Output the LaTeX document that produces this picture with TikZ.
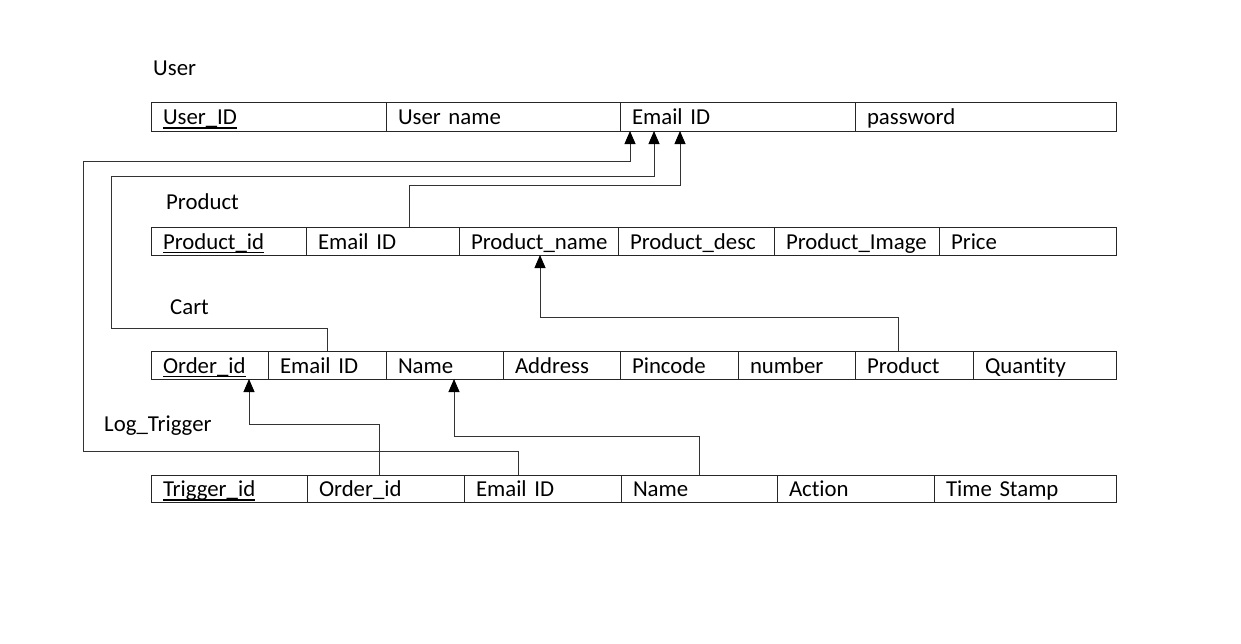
\documentclass[tikz,border=0pt]{standalone}
\usepackage{fontspec}
\setmainfont{Carlito}[Ligatures=NoCommon]
\usetikzlibrary{arrows.meta}
\newcommand\keyfield[1]{\setbox0=\hbox{#1}\rlap{\rule[-4pt]{\wd0}{1.1pt}}\box0}
\begin{document}
\begin{tikzpicture}[x=1pt,y=-1pt,
  cell/.style={draw=black!85, line width=0.9pt, rectangle, anchor=north west, inner xsep=12pt, inner ysep=0pt, outer sep=0pt, align=left, text height=17pt, text depth=1pt, font=\fontsize{22.8}{26}\selectfont},
  title/.style={anchor=base west, inner sep=0pt, font=\fontsize{22.8}{26}\selectfont},
  conn/.style={draw=black!80, line width=0.9pt, -{Triangle[length=13pt,width=11pt,color=black,fill=black]}}]
\useasboundingbox[fill=white] (0,0) rectangle (1241,643);

% titles
\node[title] (tu) at (153,75) {User};
\node[title] (tp) at (166,209) {Product};
\node[title] (tc) at (170,314) {Cart};
\node[title] (tl) at (104,431) {Log\_Trigger};

% User
\node[cell, text width=211pt, minimum height=29pt] (u1) at (151,102) {\keyfield{User\_ID}};
\node[cell, text width=210pt, minimum height=29pt] (u2) at (386,102) {User name};
\node[cell, text width=211pt, minimum height=29pt] (u3) at (620,102) {Email ID};
\node[cell, text width=237pt, minimum height=29pt] (u4) at (855,102) {password};

% Product
\node[cell, text width=131pt, minimum height=28pt] (p1) at (151,227) {\keyfield{Product\_id}};
\node[cell, text width=129pt, minimum height=28pt] (p2) at (306,227) {Email ID};
\node[cell, text width=135pt, minimum height=28pt] (p3) at (459,227) {Product\_name};
\node[cell, text width=132pt, minimum height=28pt] (p4) at (618,227) {Product\_desc};
\node[cell, text width=141pt, minimum height=28pt] (p5) at (774,227) {Product\_Image};
\node[cell, text width=153pt, minimum height=28pt] (p6) at (939,227) {Price};

% Cart
\node[cell, text width=93pt, minimum height=28pt] (c1) at (151,351) {\keyfield{Order\_id}};
\node[cell, text width=94pt, minimum height=28pt] (c2) at (268,351) {Email ID};
\node[cell, text width=93pt, minimum height=28pt] (c3) at (386,351) {Name};
\node[cell, text width=93pt, minimum height=28pt] (c4) at (503,351) {Address};
\node[cell, text width=94pt, minimum height=28pt] (c5) at (620,351) {Pincode};
\node[cell, text width=93pt, minimum height=28pt] (c6) at (738,351) {number};
\node[cell, text width=94pt, minimum height=28pt] (c7) at (855,351) {Product};
\node[cell, text width=119pt, minimum height=28pt] (c8) at (973,351) {Quantity};

% Log_Trigger
\node[cell, text width=132pt, minimum height=27pt] (l1) at (151,475) {\keyfield{Trigger\_id}};
\node[cell, text width=133pt, minimum height=27pt] (l2) at (307,475) {Order\_id};
\node[cell, text width=133pt, minimum height=27pt] (l3) at (464,475) {Email ID};
\node[cell, text width=132pt, minimum height=27pt] (l4) at (621,475) {Name};
\node[cell, text width=133pt, minimum height=27pt] (l5) at (777,475) {Action};
\node[cell, text width=158pt, minimum height=27pt] (l6) at (934,475) {Time Stamp};

% connectors
\draw[conn] ([xshift=54pt]l3.north west) |- (83,451) -- (83,161) -| ([xshift=10pt]u3.south west);
\draw[conn] ([xshift=59pt]c2.north west) |- (111,328) -- (111,176) -| ([xshift=34pt]u3.south west);
\draw[conn] ([xshift=103pt]p2.north west) |- (680,185) -- ([xshift=60pt]u3.south west);
\draw[conn] ([xshift=43pt]c7.north west) |- (540,317) -- ([xshift=81pt]p3.south west);
\draw[conn] ([xshift=72pt]l2.north west) |- (249,424) -- ([xshift=98pt]c1.south west);
\draw[conn] ([xshift=78pt]l4.north west) |- (454,436) -- ([xshift=68pt]c3.south west);
\end{tikzpicture}
\end{document}
